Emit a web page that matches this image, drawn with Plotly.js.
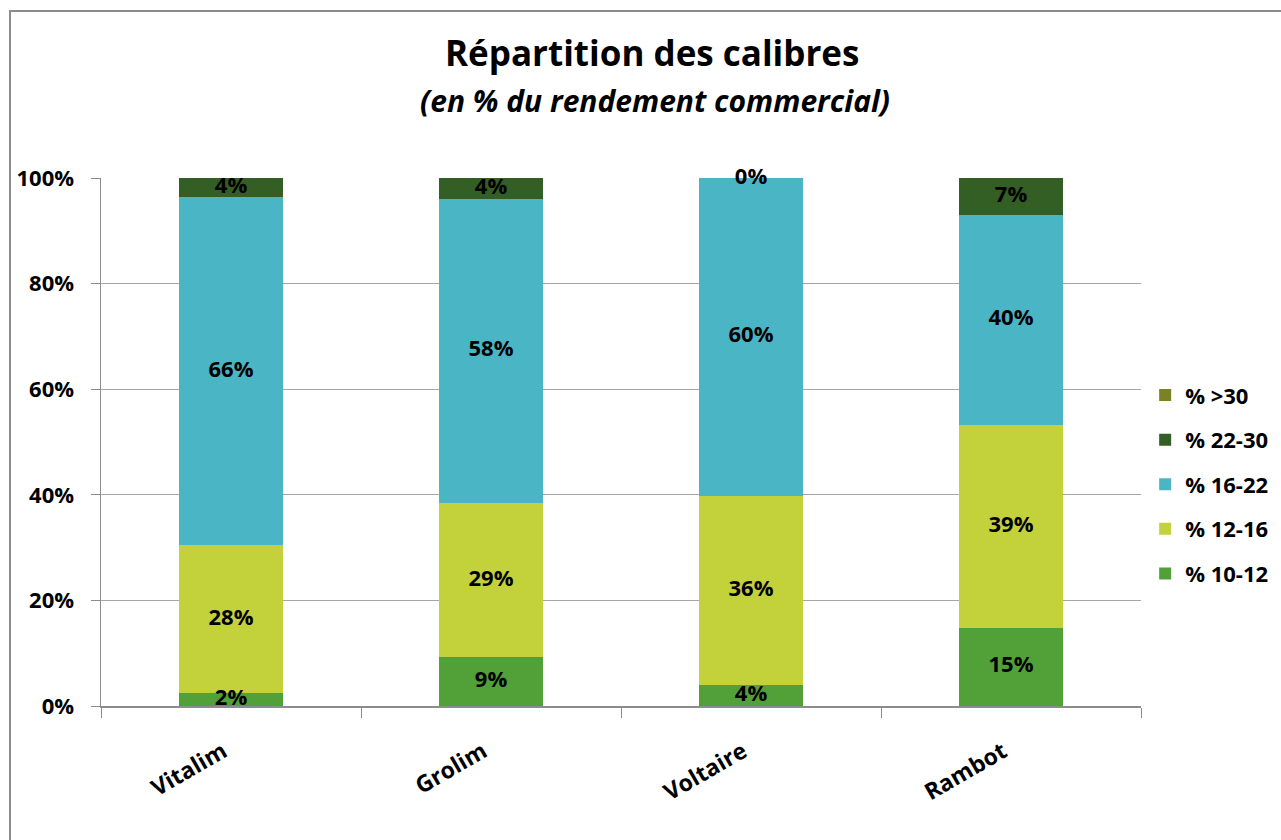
<!DOCTYPE html>
<html>
<head>
<meta charset="utf-8">
<script src="https://cdn.plot.ly/plotly-3.0.1.min.js"></script>
<style>
  html, body { margin: 0; padding: 0; background: #ffffff; }
  #chart { width: 1281px; height: 840px; position: relative; }
  #frame { position: absolute; left: 9px; top: 10px; width: 1400px; height: 1000px;
           border-left: 2px solid #8c8c8c; border-top: 2px solid #8c8c8c; pointer-events: none; }
  #wrap { position: relative; width: 1281px; height: 840px; overflow: hidden; }
</style>
</head>
<body>
<div id="wrap">
  <div id="chart"></div>
  <div id="frame"></div>
</div>
<script>
// ---- Data (percent of commercial yield) ----
const categories = ['Vitalim', 'Grolim', 'Voltaire', 'Rambot'];
const pct_10_12 = [2.4, 9.2, 4.0, 14.8];
const pct_12_16 = [28.0, 29.3, 35.8, 38.5];
const pct_16_22 = [66.0, 57.6, 60.2, 39.7];
const pct_22_30 = [3.6, 3.9, 0.0, 7.0];
const pct_gt_30 = [0, 0, 0, 0];
const seriesNames = ['% 10-12', '% 12-16', '% 16-22', '% 22-30', '% >30'];
const yTickLabels = ['0%', '20%', '40%', '60%', '80%', '100%'];

const seriesValues = [pct_10_12, pct_12_16, pct_16_22, pct_22_30, pct_gt_30];
const colors = ['#52a038', '#c3d13b', '#4ab5c5', '#335e24', '#7b8222'];
const showLabels = [true, true, true, true, false];

const FONT = '"Open Sans", Lato, "DejaVu Sans", sans-serif';

const traces = [];
seriesValues.forEach((vals, i) => {
  traces.push({
    type: 'bar',
    x: categories,
    y: vals,
    name: seriesNames[i],
    legendgroup: 'g' + i,
    legendrank: 1000 - i,
    marker: { color: colors[i], line: { width: 0 } },
    hoverinfo: 'skip'
  });
});

// Data labels centred in each stacked segment
const lx = [], ly = [], lt = [];
const base = categories.map(() => 0);
seriesValues.forEach((vals, i) => {
  vals.forEach((v, j) => {
    if (showLabels[i]) {
      lx.push(categories[j]);
      ly.push(base[j] + v / 2);
      lt.push(Math.round(v) + '%');
    }
    base[j] += v;
  });
});
traces.push({
  type: 'scatter',
  mode: 'text',
  x: lx, y: ly, text: lt,
  textposition: 'middle center',
  textfont: { family: FONT, size: 22, color: '#000000', weight: 'bold' },
  showlegend: false,
  hoverinfo: 'skip',
  cliponaxis: false
});

const layout = {
  width: 1281,
  height: 840,
  margin: { l: 101, r: 140, t: 178, b: 134, autoexpand: false },
  paper_bgcolor: '#ffffff',
  plot_bgcolor: '#ffffff',
  barmode: 'stack',
  bargap: 0.6,
  font: { family: FONT, color: '#000000' },
  showlegend: true,
  legend: {
    x: 1.004, xanchor: 'left',
    y: 0.42, yanchor: 'middle',
    traceorder: 'grouped',
    tracegroupgap: 13,
    font: { family: FONT, size: 22, color: '#000000', weight: 'bold' },
    bgcolor: 'rgba(0,0,0,0)'
  },
  xaxis: {
    type: 'category',
    showline: true,
    linecolor: '#8c8c8c',
    linewidth: 1.5,
    ticks: 'outside',
    tickson: 'boundaries',
    ticklen: 10,
    tickcolor: '#8c8c8c',
    tickangle: -30,
    ticklabelstandoff: 22,
    ticklabelshift: -8,
    tickfont: { family: FONT, size: 23, color: '#000000', weight: 'bold' },
    showgrid: false,
    automargin: false,
    fixedrange: true
  },
  yaxis: {
    range: [0, 100],
    tickvals: [0, 20, 40, 60, 80, 100],
    ticktext: yTickLabels,
    showline: true,
    linecolor: '#8c8c8c',
    linewidth: 1.5,
    ticks: 'outside',
    ticklen: 9,
    tickcolor: '#8c8c8c',
    ticklabelstandoff: 12,
    showgrid: true,
    gridcolor: '#a6a6a6',
    gridwidth: 1,
    zeroline: false,
    tickfont: { family: FONT, size: 22, color: '#000000', weight: 'bold' },
    automargin: false,
    fixedrange: true
  },
  annotations: [
    {
      xref: 'paper', yref: 'paper',
      x: (652 - 101) / 1040, y: (706 - 52) / 528,
      xanchor: 'center', yanchor: 'middle',
      showarrow: false,
      text: '<b>Répartition des calibres</b>',
      font: { family: FONT, size: 35, color: '#000000' }
    },
    {
      xref: 'paper', yref: 'paper',
      x: (655 - 101) / 1040, y: (706 - 100) / 528,
      xanchor: 'center', yanchor: 'middle',
      showarrow: false,
      text: '<b><i>(en % du rendement commercial)</i></b>',
      font: { family: FONT, size: 30, color: '#000000' }
    }
  ]
};

Plotly.newPlot('chart', traces, layout, { displayModeBar: false, staticPlot: true });
</script>
</body>
</html>
